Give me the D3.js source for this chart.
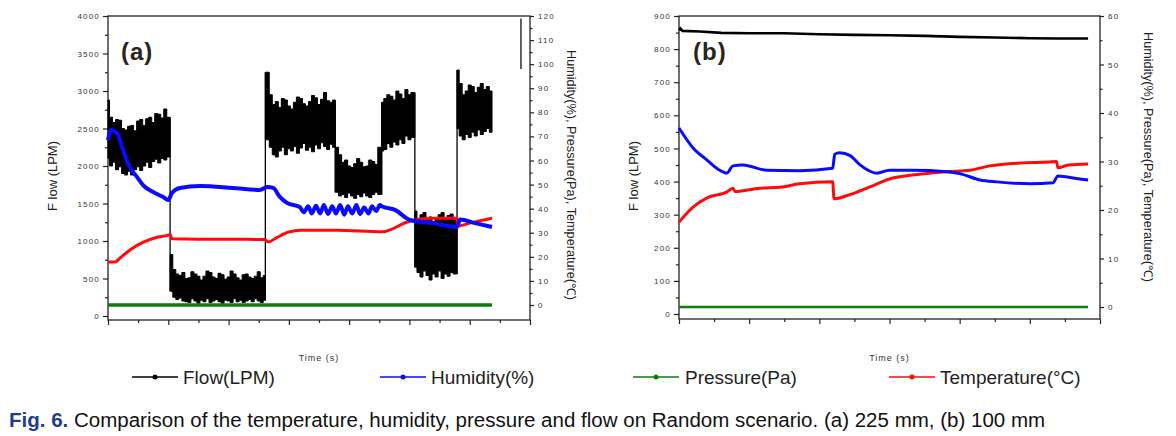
<!DOCTYPE html>
<html><head><meta charset="utf-8">
<script src="https://cdn.jsdelivr.net/npm/d3@7"></script>
<style>
body{margin:0;background:#fff}
svg{display:block}
text{font-family:"Liberation Sans",Arial,sans-serif}
</style>
</head><body>
<svg id="c" width="1176" height="436"></svg>
<script>
// ---------------- DATA: panel (a) 225 mm ----------------
// Flow (LPM): noisy band, upper/lower envelope sampled every 0.05 time units
const flowA_breaks = [0, 1.03, 2.61, 3.77, 4.54, 5.09, 5.79, 6.37];
const flowA_hi = [
  2880,2650,2580,2620,2610,2500,2480,2530,2540,2470,2600,2620,2540,2630,2650,2580,2700,2690,2640,2760,2650,
  820,620,560,540,580,500,510,590,560,530,480,530,600,580,520,500,570,550,490,520,600,560,510,480,550,560,520,500,530,590,510,540,
  3250,2950,2820,2860,2780,2900,2880,2800,2760,2850,2920,2900,2830,2800,2860,2940,2910,2820,2890,2980,2870,2850,2880,
  2250,2150,2050,2080,2000,1980,2030,2100,2050,1990,2000,2080,2060,2020,2250,
  2850,2900,2950,2930,2880,3000,2960,2900,3020,2950,2980,
  1400,1300,1350,1380,1280,1320,1260,1290,1350,1380,1290,1340,1360,1310,
  3280,3100,2950,3000,3080,3060,2980,3050,3100,3020,3060,3000
];
const flowA_lo = [
  2100,2000,2050,1950,1990,1900,1880,1930,1880,1950,1990,1940,2000,2050,1980,2060,2090,2040,2100,2080,2120,
  330,250,220,240,200,190,180,230,200,170,210,190,230,180,200,220,190,170,210,200,180,230,190,210,180,200,220,190,230,200,180,210,
  2350,2250,2150,2120,2200,2250,2150,2230,2200,2260,2170,2240,2300,2210,2250,2190,2280,2230,2310,2260,2220,2290,2250,
  1650,1600,1620,1580,1640,1600,1570,1620,1590,1640,1600,1580,1620,1650,1620,
  2200,2220,2300,2250,2320,2280,2350,2300,2400,2350,2380,
  650,580,520,600,540,480,560,520,600,500,560,530,580,560,
  2500,2400,2350,2420,2380,2450,2400,2480,2420,2460,2500,2450
];
const flowA_dt = 0.05;

const humA_t = [0,0.05,0.15,0.25,0.36,0.48,0.58,0.75,0.91,1.0,1.06,1.19,1.53,2.07,2.52,2.64,2.74,2.85,2.97,3.18,
  3.25,3.32,3.38,3.45,3.52,3.58,3.65,3.72,3.78,3.85,3.92,3.98,4.05,4.12,4.18,4.25,4.32,4.38,4.45,4.51,
  4.54,4.76,5.01,5.39,5.79,5.84,6.09,6.37];
const humA_v = [68.5,72.7,71.4,64.4,57.3,53.2,49.8,46.9,44.9,43.6,46.5,48.6,49.4,48.6,47.8,49,48.6,44.9,42.4,40.7,
  38.5,41,38,41.2,38,41.5,37.8,41,38,41.5,37.5,41,38,41.5,37.8,40.5,38,41,39,41.5,
  41,39.5,35.3,34,32.4,35.5,34,32.4];

const tempA_t = [0,0.12,0.2,0.4,0.58,0.8,1.0,1.03,1.06,1.5,2.0,2.6,2.66,2.8,3.0,3.2,3.8,4.55,5.0,5.35,5.79,5.8,6.0,6.37];
const tempA_v = [17.9,17.9,19.5,23.5,26,28,29,29.3,27.5,27.3,27.3,27.2,26.2,28,30.3,31,31,30.4,34.8,36,36,32.8,34,36];

const pressA_t = [0, 6.37];
const pressA_v = [0, 0];

// ---------------- DATA: panel (b) 100 mm ----------------
const flowB_t = [0,0.02,0.05,0.3,0.6,1.0,1.5,2.0,2.5,3.0,3.5,4.0,4.5,5.0,5.4,5.83];
const flowB_v = [857,862,855,853,849,848,848,845,843,842,840,837,835,833,832,832];

const humB_t = [0,0.2,0.4,0.58,0.68,0.77,0.91,1.25,1.72,2.19,2.22,2.29,2.44,2.58,2.82,3.0,3.33,3.82,4.0,4.29,4.53,5.0,5.33,5.4,5.71,5.83];
const humB_v = [36.9,32.8,30.3,28.2,27.6,29.1,29.3,28.2,28.1,28.6,31.5,31.8,31.2,29.3,27.6,28.2,28.2,27.9,27.5,26.2,25.8,25.4,25.6,27,26.4,26.2];

const tempB_t = [0,0.2,0.4,0.68,0.77,0.8,1.15,1.44,1.72,2.19,2.21,2.42,2.71,3.0,3.33,3.82,4.15,4.43,4.86,5.27,5.38,5.40,5.55,5.83];
const tempB_v = [17.5,20.6,22.5,23.7,24.5,23.8,24.5,24.7,25.4,25.8,22.3,23.1,24.7,26.4,27.2,27.9,28.2,29.1,29.7,29.9,30.0,28.7,29.3,29.5];

const pressB_t = [0, 5.83];
const pressB_v = [0, 0];

// ---------------- tick values / labels ----------------
const ticksLeftA = d3.range(0, 4001, 500);
const minorLeftA = d3.range(250, 4000, 500);
const ticksLeftB = d3.range(0, 901, 100);
const minorLeftB = d3.range(50, 900, 100);
const ticksRightA = d3.range(0, 121, 10);
const ticksRightB = d3.range(0, 61, 10);
const yLabelLeft = "F low (LPM)";
const yLabelRight = "Humidity(%),  Pressure(Pa),  Temperature(\u2103)";
const xLabel = "Time (s)";
const legendNames = ["Flow(LPM)", "Humidity(%)", "Pressure(Pa)", "Temperature(\u00B0C)"];
const colors = {flow:"#000000", hum:"#0a0aff", press:"#0b7d0b", temp:"#ff0a0a"};

// ---------------- drawing ----------------
const svg = d3.select("#c");
const FONT = '"Liberation Sans",Arial,sans-serif';

function drawPanel(o){
  const g = svg.append("g");
  const x = d3.scaleLinear().domain([0, o.xMax]).range([o.x0, o.x1]);
  const yL = d3.scaleLinear().domain([0, o.lMax]).range([o.l0, o.top]);
  const yR = d3.scaleLinear().domain([0, o.rMax]).range([o.r0, o.top]);
  const fmt = d3.format("d");

  const ax = (axis, tx, ty) => {
    const a = g.append("g").attr("transform", `translate(${tx},${ty})`).call(axis);
    a.select(".domain").remove();
    a.selectAll("line").attr("stroke", "#222").attr("stroke-width", 1.2);
    a.selectAll("text").attr("font-size", 8).attr("letter-spacing", "1.2px")
      .attr("fill", "#333").attr("font-family", FONT);
    return a;
  };
  ax(d3.axisLeft(yL).tickValues(o.lTicks).tickFormat(fmt).tickSize(5).tickPadding(3), o.x0, 0);
  ax(d3.axisLeft(yL).tickValues(o.lMinor).tickSize(3).tickFormat(""), o.x0, 0);
  ax(d3.axisRight(yR).tickValues(o.rTicks).tickFormat(fmt).tickSize(4).tickPadding(4), o.x1, 0);
  ax(d3.axisRight(yR).tickValues(o.rTicks.slice(0,-1).map(v => v + 5)).tickSize(2.5).tickFormat(""), o.x1, 0);
  ax(d3.axisBottom(x).tickValues(d3.range(0, o.xMax + 1)).tickSize(5).tickFormat(""), 0, o.bot);
  ax(d3.axisBottom(x).tickValues(d3.range(0.5, o.xMax, 1)).tickSize(3).tickFormat(""), 0, o.bot);

  g.append("rect").attr("x", o.x0).attr("y", o.top).attr("width", o.x1 - o.x0)
    .attr("height", o.bot - o.top).attr("fill", "none").attr("stroke", "#222").attr("stroke-width", 1.3);

  const plot = g.append("g");
  o.drawFlow(plot, x, yL);

  const line = (ts, vs, sc) => d3.line().curve(d3.curveMonotoneX).x((d, i) => x(ts[i])).y(d => sc(d))(vs);
  plot.append("path").attr("d", line(o.press[0], o.press[1], yR)).attr("fill", "none")
    .attr("stroke", colors.press).attr("stroke-width", o.pressW);
  plot.append("path").attr("d", line(o.temp[0], o.temp[1], yR)).attr("fill", "none")
    .attr("stroke", colors.temp).attr("stroke-width", o.tempW).attr("stroke-linejoin", "round");
  plot.append("path").attr("d", line(o.hum[0], o.hum[1], yR)).attr("fill", "none")
    .attr("stroke", colors.hum).attr("stroke-width", o.humW).attr("stroke-linejoin", "round");

  // panel tag
  g.append("text").attr("x", o.tagX).attr("y", 60).attr("font-size", 24).attr("font-weight", "bold")
    .attr("letter-spacing", "1px").attr("fill", "#2a2420").text(o.tag);
  // axis titles
  g.append("text").attr("transform", `translate(${o.lLabX},176) rotate(-90)`).attr("text-anchor", "middle")
    .attr("dy", "0.35em").attr("font-size", 13).attr("fill", "#222").text(yLabelLeft);
  g.append("text").attr("transform", `translate(${o.rLabX},${o.rLabY}) rotate(90)`).attr("text-anchor", "middle")
    .attr("dy", "0.35em").attr("font-size", 12).attr("fill", "#222")
    .attr("textLength", 250).attr("lengthAdjust", "spacingAndGlyphs").text(yLabelRight);
  g.append("text").attr("x", (o.x0 + o.x1) / 2).attr("y", 358).attr("text-anchor", "middle")
    .attr("dy", "0.35em").attr("font-size", 9).attr("letter-spacing", "1px").attr("fill", "#333").text(xLabel);
  return {g, x, yL, yR};
}

// panel (a)
const pA = drawPanel({
  x0:108, x1:530, top:16, bot:320, xMax:7,
  lMax:4000, l0:316, rMax:120, r0:305,
  lTicks:ticksLeftA, lMinor:minorLeftA, rTicks:ticksRightA,
  press:[pressA_t, pressA_v], temp:[tempA_t, tempA_v], hum:[humA_t, humA_v],
  pressW:3.5, tempW:3, humW:4,
  tag:"(a)", tagX:121, lLabX:52, rLabX:571, rLabY:175,
  drawFlow:(plot, x, yL) => {
    const pts = flowA_hi.map((h, i) => ({t: i * flowA_dt, hi: h, lo: flowA_lo[i]}));
    const area = d3.area().curve(d3.curveStep).x(d => x(d.t)).y0(d => yL(d.lo)).y1(d => yL(d.hi));
    const segs = [];
    for (let k = 0; k < flowA_breaks.length - 1; k++) {
      const a = flowA_breaks[k], b = flowA_breaks[k + 1];
      const s = pts.filter(p => p.t >= a - 1e-9 && p.t < b - 1e-9);
      const seg = [{...s[0], t: a}, ...s, {...s[s.length - 1], t: b}];
      segs.push(seg);
      plot.append("path").attr("d", area(seg)).attr("fill", colors.flow)
        .attr("stroke", colors.flow).attr("stroke-width", 1).attr("stroke-linejoin", "miter");
    }
    for (let k = 0; k < segs.length - 1; k++) {
      const p = segs[k][segs[k].length - 1], n = segs[k + 1][0];
      const lo = Math.min(p.lo, n.lo), hi = Math.max(p.hi, n.hi);
      plot.append("line").attr("x1", x(p.t)).attr("x2", x(p.t)).attr("y1", yL(lo)).attr("y2", yL(hi))
        .attr("stroke", colors.flow).attr("stroke-width", 1.3);
    }
  }
});
// stray vertical mark in panel (a)
pA.g.append("line").attr("x1", pA.x(6.85)).attr("x2", pA.x(6.85)).attr("y1", pA.yR(119)).attr("y2", pA.yR(98))
  .attr("stroke", "#222").attr("stroke-width", 1.4);

// panel (b)
drawPanel({
  x0:679, x1:1100, top:16, bot:319, xMax:6,
  lMax:900, l0:314, rMax:60, r0:307,
  lTicks:ticksLeftB, lMinor:minorLeftB, rTicks:ticksRightB,
  press:[pressB_t, pressB_v], temp:[tempB_t, tempB_v], hum:[humB_t, humB_v],
  pressW:2.5, tempW:3, humW:3,
  tag:"(b)", tagX:693, lLabX:633, rLabX:1148, rLabY:157,
  drawFlow:(plot, x, yL) => {
    plot.append("path").attr("d", d3.line().x((d, i) => x(flowB_t[i])).y(d => yL(d))(flowB_v))
      .attr("fill", "none").attr("stroke", colors.flow).attr("stroke-width", 2.6);
  }
});

// legend
const legendPos = [[132, 183], [380, 431], [633, 685], [889, 940]];
const legendCols = [colors.flow, colors.hum, colors.press, colors.temp];
const lg = svg.append("g");
legendNames.forEach((name, i) => {
  const [lx, tx] = legendPos[i], y = 377;
  lg.append("line").attr("x1", lx).attr("x2", lx + 46).attr("y1", y).attr("y2", y)
    .attr("stroke", legendCols[i]).attr("stroke-width", 1.5);
  lg.append("circle").attr("cx", lx + 23).attr("cy", y).attr("r", 2.5).attr("fill", legendCols[i]);
  lg.append("text").attr("x", tx).attr("y", y).attr("dy", "0.35em").attr("font-size", 19)
    .attr("fill", "#222").text(name);
});

// caption
const cap = svg.append("text").attr("x", 9).attr("y", 427).attr("font-size", 18);
cap.append("tspan").attr("font-weight", "bold").attr("fill", "#1f3c88").text("Fig. 6.");
cap.append("tspan").attr("fill", "#111").text(" Comparison of the temperature, humidity, pressure and flow on Random scenario. (a) 225 mm, (b) 100 mm");
const wCap = cap.node().getComputedTextLength();
cap.attr("font-size", 18 * 1037 / wCap);
</script>
</body></html>
